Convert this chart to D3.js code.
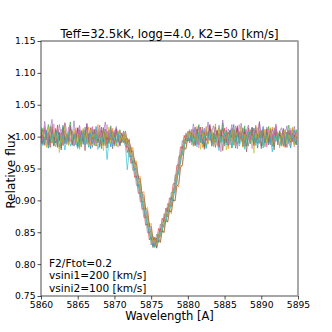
<!DOCTYPE html>
<html><head><meta charset="utf-8">
<script src="https://cdn.jsdelivr.net/npm/d3@7"></script>
<style>body{margin:0;background:#fff}svg{display:block}text{font-family:"DejaVu Sans",sans-serif}</style>
</head><body>
<script>
const title = "Teff=32.5kK, logg=4.0, K2=50 [km/s]";
const xTicks = [5860,5865,5870,5875,5880,5885,5890,5895];
const yTicks = [0.75,0.80,0.85,0.90,0.95,1.00,1.05,1.10,1.15];
const annotations = ["F2/Ftot=0.2","vsini1=200 [km/s]","vsini2=100 [km/s]"];
const wlStart = 5860, wlStep = 0.25;
const colors = ["#1f77b4","#ff7f0e","#2ca02c","#d62728","#9467bd","#8c564b","#e377c2","#7f7f7f","#bcbd22","#17becf"];

const s0 = [1.004,0.991,1.012,0.998,0.987,1.009,1.015,0.995,1.002,0.983,1.007,0.996,1.018,0.989,1.001,0.993,1.011,1.003,0.985,0.999,1.014,0.992,1.006,0.988,1.010,0.997,1.002,0.981,1.008,0.994,1.016,0.990,1.003,0.999,0.986,1.012,0.995,1.005,0.984,1.009,0.998,1.013,0.991,1.001,0.993,
0.996,1.004,0.983,0.990,0.968,0.972,0.948,0.951,0.922,0.925,0.897,0.899,0.872,0.876,0.849,0.852,0.829,0.840,0.826,0.847,0.843,0.863,0.858,0.880,0.874,0.896,0.890,0.913,0.912,0.941,0.942,0.970,0.971,0.995,0.989,1.006,
0.993,1.008,0.997,1.015,0.988,1.003,0.994,1.011,0.985,1.006,0.999,1.017,0.990,1.004,0.996,1.009,0.983,1.002,1.013,0.992,1.005,0.987,1.010,0.998,1.019,0.991,1.004,0.995,1.008,0.986,1.012,0.997,1.001,0.989,1.014,0.994,1.007,0.982,1.003,0.999,1.016,0.990,1.006,0.993,1.011,0.985,1.002,1.009,0.996,1.004,0.988,1.013,0.997,1.007,0.991,1.005,0.994,1.010,0.987,1.001];
const s1 = [1.010,0.995,0.986,1.007,1.002,0.990,1.018,0.998,0.984,1.011,0.993,1.005,0.999,1.021,0.988,1.003,0.992,1.009,0.996,1.014,0.983,1.006,0.997,1.012,0.990,1.001,1.015,0.987,0.999,1.008,0.994,1.019,0.986,1.004,0.998,1.010,0.989,1.007,0.995,1.013,0.991,1.002,1.009,0.985,1.004,
0.994,1.009,0.988,0.997,0.975,0.983,0.959,0.962,0.935,0.938,0.911,0.914,0.886,0.889,0.861,0.864,0.838,0.842,0.828,0.843,0.834,0.855,0.849,0.871,0.866,0.887,0.879,0.902,0.899,0.925,0.921,0.955,0.954,0.983,0.981,1.003,
1.008,0.991,1.002,0.987,1.016,0.995,1.010,0.983,1.005,0.998,0.989,1.012,1.003,0.994,1.020,0.986,1.007,0.997,1.011,0.990,1.004,0.981,1.009,1.000,0.993,1.017,0.988,1.006,0.996,1.013,0.984,1.002,1.010,0.992,1.005,0.987,1.018,0.999,0.991,1.008,0.995,1.012,0.986,1.003,0.997,1.015,0.989,1.006,0.993,1.009,1.001,0.984,1.011,0.996,1.004,0.990,1.014,0.998,1.007,0.992];
const s2 = [0.997,1.013,0.989,1.004,1.019,0.992,1.001,0.985,1.010,0.996,1.006,0.982,1.015,0.999,0.990,1.008,1.023,0.994,1.003,0.987,1.011,0.998,0.984,1.007,0.995,1.016,0.991,1.002,1.012,0.986,1.005,0.993,1.009,0.981,1.014,0.997,1.003,0.990,1.017,0.994,1.008,0.985,1.001,1.011,0.992,
1.009,0.989,0.998,0.976,0.984,0.958,0.963,0.936,0.939,0.911,0.913,0.886,0.888,0.861,0.864,0.838,0.844,0.826,0.841,0.834,0.856,0.850,0.873,0.866,0.889,0.882,0.905,0.899,0.927,0.926,0.956,0.957,0.985,0.981,1.003,0.993,
0.996,1.010,0.987,1.004,0.999,1.019,0.990,1.006,0.983,1.012,1.002,0.994,1.008,0.986,1.015,0.997,1.005,0.991,1.021,0.988,1.009,0.995,1.003,0.982,1.011,0.999,1.014,0.989,1.006,0.993,1.017,0.985,1.002,1.008,0.994,1.013,0.990,1.004,0.998,1.010,0.987,1.006,0.995,1.016,0.991,1.003,0.984,1.012,0.997,1.007,0.992,1.009,0.986,1.001,1.018,0.994,1.005,0.989,1.011,0.996];
const s3 = [1.002,0.988,1.014,0.995,1.007,0.983,1.011,0.999,0.990,1.018,0.994,1.005,0.986,1.009,1.001,0.992,1.016,0.987,1.004,0.997,1.013,0.984,1.008,0.993,1.002,1.020,0.989,1.006,0.996,1.011,0.985,1.003,0.998,1.015,0.991,1.007,0.982,1.010,0.995,1.004,0.988,1.012,0.997,0.986,1.006,
0.990,0.997,0.975,0.983,0.958,0.962,0.936,0.938,0.911,0.912,0.886,0.887,0.861,0.863,0.838,0.843,0.826,0.842,0.834,0.856,0.850,0.872,0.866,0.888,0.882,0.904,0.900,0.926,0.926,0.955,0.956,0.984,0.981,1.002,0.993,1.008,
1.005,0.992,1.011,0.986,1.003,0.997,1.015,0.989,1.008,0.994,1.001,1.019,0.985,1.006,0.996,1.010,0.983,1.004,0.999,1.013,0.990,1.007,0.995,1.012,0.987,1.002,1.017,0.993,1.009,0.984,1.006,0.998,1.014,0.991,1.003,0.988,1.010,0.996,1.022,0.985,1.004,0.999,1.008,0.990,1.013,0.994,1.001,1.016,0.987,1.005,0.997,1.011,0.983,1.007,0.995,1.009,0.992,1.003,0.988,1.012];
const s4 = [1.015,0.996,1.024,1.003,0.990,1.012,1.027,0.998,1.008,0.987,1.019,1.004,0.993,1.022,1.009,0.995,1.013,1.001,1.025,0.992,1.006,1.017,0.989,1.010,1.000,1.021,0.994,1.007,1.015,0.988,1.011,1.002,1.018,0.991,1.006,1.023,0.997,1.009,1.014,0.993,1.004,1.016,0.999,1.008,1.002,
1.004,1.008,0.994,0.991,0.983,0.970,0.964,0.949,0.937,0.926,0.909,0.901,0.884,0.876,0.860,0.851,0.841,0.839,0.838,0.848,0.853,0.864,0.868,0.881,0.884,0.896,0.900,0.914,0.922,0.940,0.951,0.969,0.980,0.994,0.998,1.006,
1.011,0.998,1.020,1.004,0.993,1.016,1.007,0.989,1.013,1.001,1.023,0.995,1.009,1.017,0.991,1.006,1.014,0.999,1.026,1.003,0.990,1.012,1.005,1.019,0.994,1.008,1.015,0.997,1.021,1.002,0.988,1.010,1.018,0.996,1.007,1.013,0.992,1.004,1.024,1.000,1.009,0.993,1.015,1.006,0.987,1.012,1.003,1.020,0.995,1.008,1.014,0.999,1.005,1.017,0.991,1.010,1.002,1.016,0.997,1.007];
const s5 = [0.988,1.003,0.994,1.010,0.982,0.999,1.007,0.986,1.013,0.992,1.001,0.979,1.009,0.995,1.004,0.987,1.012,0.990,0.998,1.006,0.984,1.011,0.993,1.002,0.978,1.008,0.996,1.014,0.989,1.000,0.991,1.005,0.983,1.010,0.997,0.986,1.009,0.994,1.003,0.981,1.007,0.992,1.000,0.988,0.995,
0.991,1.004,0.989,0.995,0.975,0.978,0.958,0.958,0.935,0.934,0.911,0.908,0.886,0.884,0.860,0.859,0.838,0.840,0.825,0.838,0.834,0.852,0.850,0.868,0.866,0.884,0.882,0.900,0.899,0.922,0.926,0.951,0.956,0.980,0.981,0.998,
0.990,1.006,0.985,0.999,1.012,0.987,1.003,0.994,0.980,1.009,0.996,1.014,0.988,1.001,0.983,1.007,0.992,1.011,0.978,1.004,0.995,0.986,1.010,0.998,1.005,0.982,1.013,0.991,1.002,0.989,1.008,0.976,1.004,0.997,1.015,0.985,1.000,0.993,1.009,0.981,1.006,0.990,1.012,0.987,0.999,1.004,0.979,1.011,0.994,1.002,0.986,1.008,0.997,0.983,1.010,0.992,1.005,0.988,1.001,0.995];
const s6 = [1.006,0.993,1.017,0.985,1.009,1.001,0.990,1.020,0.996,1.004,0.981,1.012,0.998,1.007,0.988,1.015,0.994,1.003,0.986,1.010,0.999,1.018,0.991,1.005,0.984,1.011,1.000,0.993,1.016,0.989,1.007,0.996,1.013,0.985,1.002,0.992,1.019,0.998,1.006,0.987,1.010,0.995,0.983,1.008,0.999,
0.995,1.003,0.983,0.988,0.969,0.971,0.948,0.950,0.924,0.924,0.899,0.898,0.874,0.873,0.850,0.851,0.831,0.838,0.829,0.846,0.843,0.862,0.859,0.878,0.875,0.894,0.891,0.912,0.913,0.938,0.942,0.968,0.971,0.993,0.989,1.005,
1.002,0.987,1.013,0.996,1.005,0.982,1.010,0.999,0.991,1.016,0.994,1.007,0.985,1.003,1.012,0.990,1.001,0.976,1.008,0.997,1.015,0.988,1.004,0.993,1.010,0.984,0.999,1.019,0.992,1.006,0.986,1.011,0.995,1.003,0.981,1.009,0.998,1.014,0.989,1.002,0.994,1.008,0.983,1.012,0.997,1.005,0.990,1.017,0.993,1.001,0.985,1.010,0.996,1.006,0.988,1.013,0.999,0.984,1.007,0.994];
const s7 = [0.999,1.011,0.987,1.004,0.993,1.016,0.990,1.002,1.009,0.984,1.006,0.995,1.013,0.989,1.000,0.992,1.018,0.986,1.007,0.998,1.003,0.982,1.010,0.994,1.015,0.988,1.005,0.997,0.983,1.012,0.991,1.008,1.001,0.986,1.014,0.995,1.004,0.989,1.010,0.998,0.985,1.007,0.993,1.003,0.990,
1.003,0.984,0.990,0.968,0.971,0.947,0.949,0.923,0.925,0.898,0.899,0.873,0.874,0.849,0.851,0.830,0.839,0.828,0.847,0.842,0.863,0.858,0.879,0.874,0.895,0.890,0.913,0.912,0.940,0.941,0.969,0.970,0.994,0.988,1.006,0.993,
1.009,0.994,1.003,0.986,1.012,0.998,0.990,1.015,1.001,0.983,1.007,0.995,1.011,0.988,1.004,0.997,1.018,0.991,1.002,0.985,1.010,0.999,0.987,1.013,0.994,1.006,0.981,1.008,0.996,1.014,0.990,1.003,0.985,1.011,1.000,0.992,1.016,0.989,1.005,0.997,1.012,0.984,1.007,0.995,1.002,0.988,1.014,0.999,0.991,1.009,1.003,0.986,1.010,0.994,1.006,0.982,1.012,0.998,0.990,1.004];
const s8 = [0.992,1.008,0.997,0.983,1.014,1.002,0.989,1.010,0.995,1.006,0.975,1.003,0.991,1.016,0.999,0.986,1.009,0.994,1.012,0.988,1.005,0.980,1.001,1.013,0.993,1.007,0.984,1.010,0.998,1.004,0.987,1.011,0.995,1.002,0.978,1.008,0.999,1.015,0.990,1.005,0.996,0.986,1.009,0.994,1.001,
0.990,1.006,0.985,0.992,0.970,0.974,0.950,0.953,0.926,0.927,0.900,0.901,0.875,0.876,0.852,0.853,0.833,0.840,0.830,0.848,0.844,0.865,0.860,0.881,0.876,0.897,0.892,0.915,0.914,0.941,0.943,0.971,0.972,0.996,0.990,1.008,
0.998,1.012,0.985,1.004,0.993,1.009,0.980,1.006,0.996,1.015,0.988,1.001,1.010,0.984,1.005,0.994,1.013,0.990,0.999,1.007,0.979,1.003,0.995,1.011,0.986,1.008,1.000,0.992,1.016,0.983,1.004,0.997,1.009,0.989,1.002,0.974,1.006,0.993,1.012,0.998,0.985,1.010,0.991,1.004,1.014,0.987,1.000,0.995,1.008,0.982,1.005,0.996,1.011,0.989,1.003,0.993,1.015,0.986,1.002,0.997];
const s9 = [1.003,0.986,0.996,1.009,0.982,0.994,1.005,0.988,0.999,1.011,0.984,0.993,1.002,0.979,0.997,1.007,0.985,0.995,1.004,0.990,0.981,1.000,0.992,1.008,0.987,0.996,0.983,1.005,0.991,0.998,1.006,0.980,0.994,1.001,0.988,0.997,0.964,0.993,1.004,0.985,0.999,0.990,1.006,0.987,0.995,
0.992,0.986,0.948,0.975,0.968,0.957,0.949,0.934,0.925,0.911,0.899,0.887,0.873,0.862,0.848,0.839,0.827,0.829,0.833,0.838,0.848,0.853,0.862,0.867,0.879,0.885,0.893,0.905,0.916,0.930,0.946,0.961,0.975,0.986,0.993,0.998,
0.993,1.004,0.988,0.999,0.984,1.007,0.995,0.990,1.002,0.981,0.997,1.009,0.986,0.994,1.003,0.989,0.978,1.001,0.992,1.006,0.987,0.996,1.010,0.983,0.998,0.991,1.005,0.985,0.994,1.002,0.980,0.997,1.008,0.989,0.993,1.004,0.986,0.999,0.990,1.007,0.982,0.995,1.003,0.988,0.997,0.976,1.001,0.992,1.006,0.985,0.994,0.999,0.987,1.005,0.990,0.983,1.002,0.995,0.988,0.998];
const series = [s0,s1,s2,s3,s4,s5,s6,s7,s8,s9];

const W = 332, H = 332;
const m = {left:41, right:298, top:41, bottom:296};
const svg = d3.select("body").append("svg").attr("width",W).attr("height",H);
const x = d3.scaleLinear().domain([5860,5895]).range([m.left,m.right]);
const y = d3.scaleLinear().domain([0.75,1.15]).range([m.bottom,m.top]);

svg.append("clipPath").attr("id","clip").append("rect")
  .attr("x",m.left).attr("y",m.top).attr("width",m.right-m.left).attr("height",m.bottom-m.top);

const line = d3.line().x((d,i)=>x(wlStart+i*wlStep)).y(d=>y(d));
const g = svg.append("g").attr("clip-path","url(#clip)");
series.forEach((s,k)=>{
  g.append("path").datum(s).attr("d",line).attr("fill","none")
    .attr("stroke",colors[k%colors.length]).attr("stroke-width",0.9).attr("stroke-opacity",0.7);
});

const xa = svg.append("g").attr("transform",`translate(0,${m.bottom})`)
  .call(d3.axisBottom(x).tickValues(xTicks).tickFormat(d3.format("d")).tickSize(3.5).tickPadding(1.5));
const ya = svg.append("g").attr("transform",`translate(${m.left},0)`)
  .call(d3.axisLeft(y).tickValues(yTicks).tickFormat(d3.format(".2f")).tickSize(3.5).tickPadding(2));
[xa,ya].forEach(a=>{
  a.select(".domain").remove();
  a.selectAll("text").attr("font-size",9.2).attr("fill","#000").attr("font-family","DejaVu Sans");
  a.selectAll("line").attr("stroke","#000").attr("stroke-width",0.7);
});

// frame
svg.append("rect").attr("x",m.left).attr("y",m.top).attr("width",m.right-m.left).attr("height",m.bottom-m.top)
  .attr("fill","none").attr("stroke","#222").attr("stroke-width",0.8);
svg.append("line").attr("x1",m.right).attr("x2",m.right).attr("y1",m.top).attr("y2",m.bottom)
  .attr("stroke","#aaa").attr("stroke-width",1.6);

svg.append("text").attr("x",(m.left+m.right)/2).attr("y",37.5).attr("text-anchor","middle")
  .attr("font-size",11.6).text(title);
svg.append("text").attr("x",(m.left+m.right)/2).attr("y",319.5).attr("text-anchor","middle")
  .attr("font-size",11.5).text("Wavelength [A]");
svg.append("text").attr("transform",`translate(14.5,171) rotate(-90)`).attr("text-anchor","middle")
  .attr("font-size",12.2).text("Relative flux");
annotations.forEach((t,i)=>{
  svg.append("text").attr("x",49).attr("y",267+i*12.3).attr("font-size",10.6).text(t);
});
</script>
</body></html>
